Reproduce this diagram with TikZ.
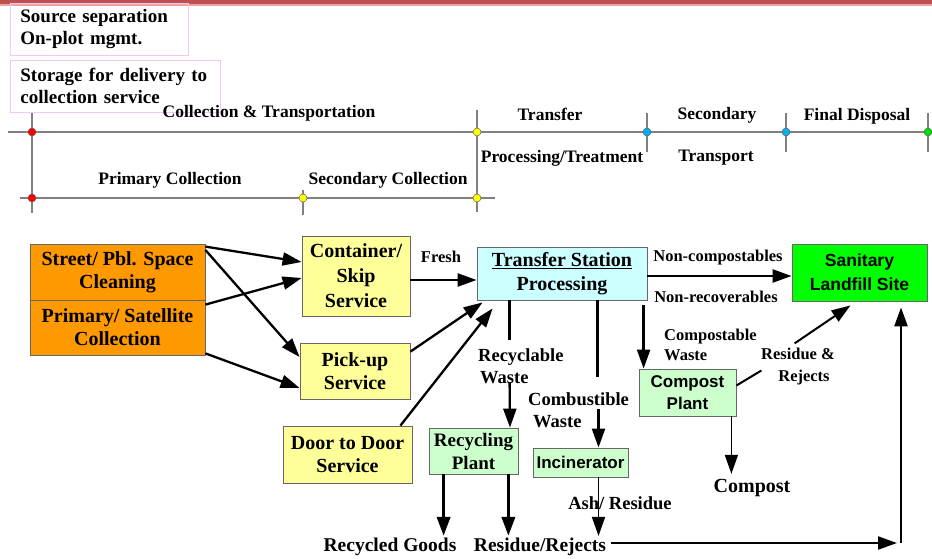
\documentclass[tikz,border=0pt]{standalone}
\usepackage{fontspec}
\setmainfont{Liberation Serif}
\newfontfamily\sansf{Liberation Sans}
\usetikzlibrary{arrows.meta,calc}
\definecolor{barred}{HTML}{C0504D}
\definecolor{barlight}{HTML}{E8A6A4}
\definecolor{boxorange}{HTML}{FF9900}
\definecolor{boxyellow}{HTML}{FFFF99}
\definecolor{boxcyan}{HTML}{CCFFFF}
\definecolor{boxgreen}{HTML}{00FF00}
\definecolor{boxlgreen}{HTML}{CCFFCC}
\definecolor{pinkline}{HTML}{F4C6F4}
\definecolor{dotcyan}{HTML}{00B0F0}
\definecolor{dotgreen}{HTML}{00E000}
\definecolor{dotyellow}{HTML}{FFFF00}
\definecolor{dotred}{HTML}{FF0000}
\newcommand\fsz[2]{\fontsize{#1}{#2}\selectfont}
\begin{document}
\begin{tikzpicture}[x=1pt,y=-1pt,
 box/.style={draw=gray!80!black, line width=0.8pt, align=center, inner sep=0pt, font=\bfseries\fsz{20}{23}},
 lbl/.style={inner sep=0pt, align=center, font=\bfseries\fsz{17.5}{22}},
 small/.style={inner sep=0pt, align=center, font=\bfseries\fsz{16.5}{21}},
 mid/.style={inner sep=0pt, align=left, font=\bfseries\fsz{18.5}{22}},
 big/.style={inner sep=0pt, align=center, font=\bfseries\fsz{19.5}{22}},
 arr/.style={-{Triangle[length=19pt,width=13pt]}, line width=2.3pt},
 thk/.style={line width=2.3pt},
 tl/.style={draw=gray, line width=1.6pt},
 dot/.style={circle, draw=black!60, line width=0.5pt, inner sep=0pt, minimum size=8pt},
 note/.style={draw=pinkline, line width=0.8pt, align=left, inner xsep=10pt, inner ysep=0pt, font=\bfseries\fsz{19}{22}, anchor=north west}]
\useasboundingbox (0,0) rectangle (932,559);
% top bar
\fill[barred] (0,0) rectangle (932,4);
\fill[barlight] (0,4) rectangle (932,6);
% notes
\node[note, text width=158pt, minimum height=52pt] (n1) at (10,3) {Source separation\\On-plot mgmt.};
\node[note, text width=190pt, minimum height=52pt] (n2) at (10,60) {Storage for delivery to\\collection service};
% timeline
\draw[tl] (8,132) -- (932,132);
\draw[tl] (32,113) -- (32,213);
\draw[tl] (20,198) -- (495,198);
\draw[tl] (303,190) -- (303,215);
\draw[tl] (477,110) -- (477,212);
\draw[tl] (647,113) -- (647,152);
\draw[tl] (786,113) -- (786,152);
\draw[tl] (928,113) -- (928,152);
\node[dot, fill=dotred] (d1) at (32,132) {};
\node[dot, fill=dotred] (d2) at (32,198) {};
\node[dot, fill=dotyellow] (d3) at (303,198) {};
\node[dot, fill=dotyellow] (d4) at (477,132) {};
\node[dot, fill=dotyellow] (d5) at (477,198) {};
\node[dot, fill=dotcyan] (d6) at (647,132) {};
\node[dot, fill=dotcyan] (d7) at (786,132) {};
\node[dot, fill=dotgreen] (d8) at (928,132) {};
\node[lbl] (t1) at (269,113) {Collection \& Transportation};
\node[lbl] (t2) at (170,180) {Primary Collection};
\node[lbl] (t3) at (388,180) {Secondary Collection};
\node[lbl] (t4) at (550,114) {Transfer};
\node[lbl] (t5) at (562,158) {Processing/Treatment};
\node[lbl] (t6) at (717,115) {Secondary};
\node[lbl] (t7) at (716,158) {Transport};
\node[lbl] (t8) at (857,116) {Final Disposal};
% boxes
\node[box, fill=boxorange, minimum width=175pt, minimum height=56pt] (street) at (117.5,272) {Street/ Pbl. Space\\Cleaning};
\node[box, fill=boxorange, minimum width=175pt, minimum height=55pt] (prim) at (117.5,327.5) {Primary/ Satellite\\Collection};
\node[box, fill=boxyellow, minimum width=108pt, minimum height=80pt, font=\bfseries\fsz{20}{25}] (cont) at (356,276) {Container/\\Skip\\Service};
\node[box, fill=boxyellow, minimum width=110pt, minimum height=56pt] (pick) at (355,371) {Pick-up\\Service};
\node[box, fill=boxyellow, minimum width=129pt, minimum height=57pt] (door) at (347.5,454.5) {Door to Door\\Service};
\node[box, fill=boxcyan, minimum width=170pt, minimum height=53pt, font=\bfseries\fsz{20}{24}] (trans) at (562,273.5) {\underline{Transfer Station}\\Processing};
\node[box, fill=boxgreen, minimum width=135pt, minimum height=57pt, font=\sansf\bfseries\fsz{17.5}{24}] (land) at (859.5,272.5) {Sanitary\\Landfill Site};
\node[box, fill=boxlgreen, minimum width=97pt, minimum height=47pt, font=\sansf\bfseries\fsz{17}{22}] (comp) at (687.5,392.5) {Compost\\Plant};
\node[box, fill=boxlgreen, minimum width=89pt, minimum height=46pt, font=\bfseries\fsz{19}{23}] (recy) at (473.5,451) {Recycling\\Plant};
\node[box, fill=boxlgreen, minimum width=95pt, minimum height=29pt, font=\sansf\bfseries\fsz{17}{20}] (inc) at (580.5,462.5) {Incinerator};
% labels
\node[small] (fresh) at (441,257) {Fresh};
\node[small] (noncomp) at (718,258) {Non-compostables};
\node[small] (nonrec) at (716,297) {Non-recoverables};
\node[mid, anchor=west] (recw) at (478,366) {Recyclable\\\hspace*{2pt}Waste};
\node[mid, anchor=west] (comw) at (528,410) {Combustible\\\hspace*{5pt}Waste};
\node[small, anchor=west, align=left, font=\bfseries\fsz{16.5}{20}] (cpw) at (664,345) {Compostable\\Waste};
\node[small, font=\bfseries\fsz{16.5}{22}] (resrej) at (798,367) {Residue \&\\\hspace*{12pt}Rejects};
\node[mid, align=center] (ash) at (620,503) {Ash/ Residue};
\node[box, draw=none, fill=none] (cpl) at (752,488) {Compost};
\node[big] (rg) at (390,547) {Recycled Goods};
\node[big] (rr) at (540,547) {Residue/Rejects};
% connectors
\draw[arr] ($(street.north east)+(0,3)$) -- ($(cont.west)+(0,-14)$);
\draw[arr] ($(street.east)+(0,-22)$) -- ($(pick.west)+(0,-14)$);
\draw[arr] ($(prim.north east)+(0,5)$) -- ($(cont.west)+(0,2)$);
\draw[arr] ($(prim.south east)+(0,-2)$) -- ($(pick.west)+(0,17)$);
\draw[arr] ($(cont.east)+(0,4)$) -- ($(trans.west)+(0,6.5)$);
\draw[arr] ($(pick.north east)+(0,9)$) -- ($(trans.south west)+(6,2)$);
\draw[arr] ($(door.north east)+(-12,0)$) -- ($(trans.south west)+(16,8)$);
\draw[arr] ($(trans.east)+(0,2.5)$) -- ($(land.west)+(0,3.5)$);
\draw[thk] ($(trans.south west)+(33,0)$) -- ++(0,40);
\draw[arr] ($(trans.south west)+(33,82)$) -- ($(recy.north)+(36.5,0)$);
\draw[thk] ($(trans.south west)+(121,0)$) -- ++(0,77);
\draw[arr] ($(inc.north)+(18,-39)$) -- ($(inc.north)+(18,0)$);
\draw[arr] ($(trans.south west)+(167,5)$) -- ($(comp.north west)+(5,0)$);
\draw[line width=2pt] ($(comp.east)+(0,-7)$) -- ++(25,-15);
\draw[arr, line width=2pt] ($(land.south west)+(3,42)$) -- ($(land.south)+(-9,4)$);
\coordinate (c1) at ($(comp.south east)+(-5,0)$);
\draw[arr, line width=1.6pt] (c1) -- ($(c1 |- cpl.north)+(0,-5)$);
\coordinate (r1) at ($(recy.south west)+(15,0)$);
\coordinate (r2) at ($(recy.south east)+(-10,0)$);
\draw[arr, line width=3.5pt] (r1) -- ($(r1 |- rg.north)+(0,-2)$);
\draw[arr, line width=3.5pt] (r2) -- ($(r2 |- rr.north)+(0,-2)$);
\coordinate (i1) at ($(inc.south)+(18,0)$);
\draw[arr, line width=1.6pt] (i1) -- ($(i1 |- rr.north)+(0,-2)$);
\coordinate (corner) at (901,543);
\coordinate (b1) at ($(rr.east)+(5,-4)$);
\draw[arr] (b1) -- ($(b1 -| corner)+(-4,0)$);
\draw[arr, line width=2.5pt] (corner) -- ($(corner |- land.south)+(0,6)$);
\end{tikzpicture}
\end{document}
